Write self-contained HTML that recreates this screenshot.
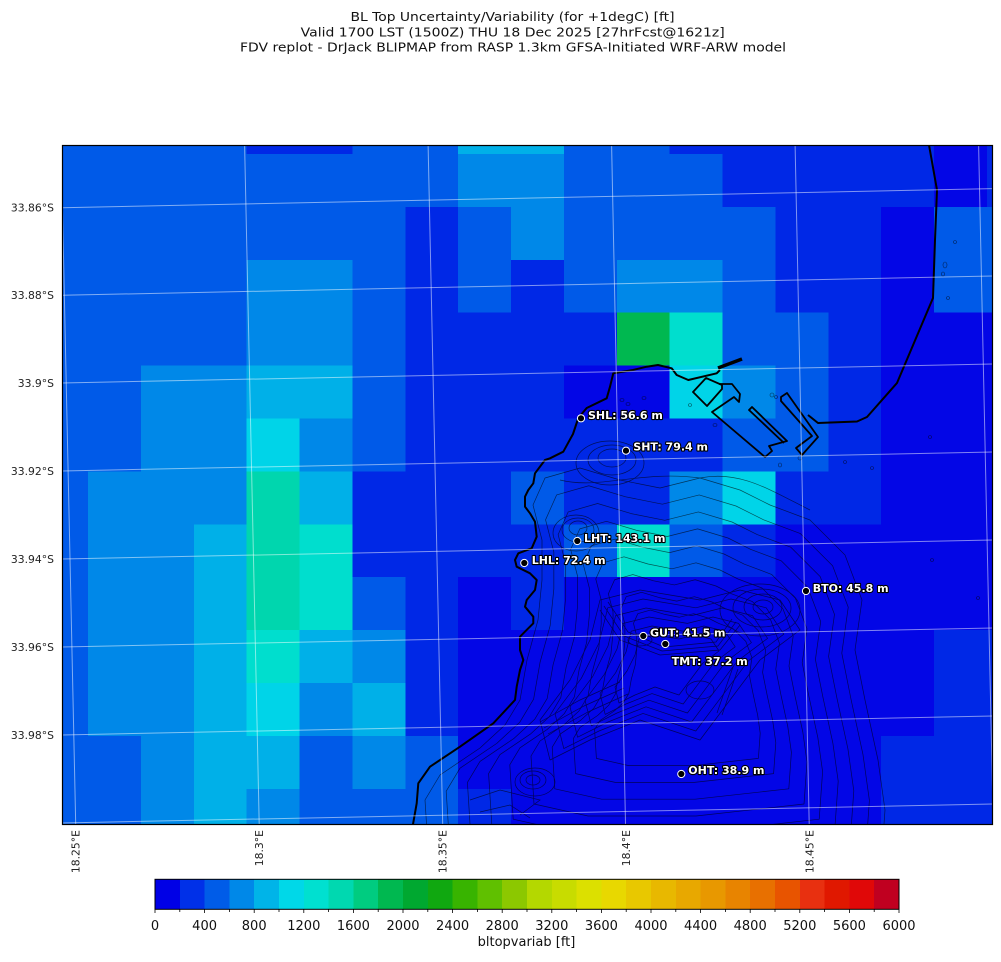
<!DOCTYPE html>
<html><head><meta charset="utf-8">
<style>
html,body{margin:0;padding:0;background:#fff;width:1001px;height:962px;overflow:hidden}
svg{display:block}
</style></head>
<body>
<svg width="1001" height="962" viewBox="0 0 1001 962" xmlns="http://www.w3.org/2000/svg" font-family="'DejaVu Sans','Liberation Sans',sans-serif">
<defs>
<clipPath id="pc"><rect x="62" y="145" width="930.5" height="679.5"/></clipPath>
<polygon id="outer" points="545,478 580,468 620,480 660,488 700,478 740,490 770,505 810,520 845,555 862,600 855,650 865,700 878,760 885,810 880,880 700,900 520,900 430,880 425,800 440,775 480,748 505,725 520,700 527,660 538,620 542,580 542,540 533,505" fill="none" stroke="#000" stroke-width="0.7" vector-effect="non-scaling-stroke" stroke-linejoin="round"/>
<polygon id="ridge" points="600,600 640,590 700,600 740,590 780,600 800,630 760,660 730,700 700,740 640,720 590,740 550,760 540,720 570,680 590,640" fill="none" stroke="#000" stroke-width="0.7" vector-effect="non-scaling-stroke" stroke-linejoin="round"/>
</defs>

<!-- titles -->
<g fill="#111" font-size="12" text-anchor="middle">
<text x="512.5" y="20.8" textLength="324" lengthAdjust="spacingAndGlyphs">BL Top Uncertainty/Variability (for +1degC) [ft]</text>
<text x="512.7" y="36.6" textLength="424" lengthAdjust="spacingAndGlyphs">Valid 1700 LST (1500Z) THU 18 Dec 2025 [27hrFcst@1621z]</text>
<text x="513" y="51.6" textLength="546" lengthAdjust="spacingAndGlyphs">FDV replot - DrJack BLIPMAP from RASP 1.3km GFSA-Initiated WRF-ARW model</text>
</g>

<g clip-path="url(#pc)" shape-rendering="crispEdges">
<rect x="62" y="145" width="931" height="680" fill="#005AE8"/>
<!-- row -1 -->
<rect x="246.6" y="145" width="105.8" height="9" fill="#0028E6"/>
<rect x="458.2" y="145" width="105.7" height="9" fill="#00B0E8"/>
<rect x="669.7" y="145" width="264.4" height="9" fill="#0028E6"/>
<rect x="934.1" y="145" width="52.9" height="9" fill="#0306E6"/>
<rect x="987" y="145" width="6" height="9" fill="#0028E6"/>
<!-- row 0 -->
<rect x="458.2" y="154" width="105.7" height="52.9" fill="#0088E8"/>
<rect x="722.6" y="154" width="211.5" height="52.9" fill="#0028E6"/>
<rect x="934.1" y="154" width="52.9" height="52.9" fill="#0306E6"/>
<rect x="987" y="154" width="6" height="52.9" fill="#0028E6"/>
<!-- row 1 -->
<rect x="405.3" y="206.9" width="52.9" height="52.9" fill="#0028E6"/>
<rect x="511" y="206.9" width="52.9" height="52.9" fill="#0088E8"/>
<rect x="775.4" y="206.9" width="105.8" height="52.9" fill="#0028E6"/>
<rect x="881.2" y="206.9" width="52.9" height="52.9" fill="#0306E6"/>
<!-- row 2 -->
<rect x="246.6" y="259.8" width="105.8" height="52.9" fill="#0088E8"/>
<rect x="405.3" y="259.8" width="52.9" height="52.9" fill="#0028E6"/>
<rect x="511" y="259.8" width="52.9" height="52.9" fill="#0028E6"/>
<rect x="616.8" y="259.8" width="105.8" height="52.9" fill="#0088E8"/>
<rect x="775.4" y="259.8" width="105.8" height="52.9" fill="#0028E6"/>
<rect x="881.2" y="259.8" width="52.9" height="52.9" fill="#0306E6"/>
<!-- row 3 -->
<rect x="246.6" y="312.7" width="105.8" height="52.9" fill="#0088E8"/>
<rect x="405.3" y="312.7" width="211.5" height="52.9" fill="#0028E6"/>
<rect x="616.8" y="312.7" width="52.9" height="52.9" fill="#00B850"/>
<rect x="669.7" y="312.7" width="52.9" height="52.9" fill="#00DECE"/>
<rect x="828.3" y="312.7" width="52.9" height="52.9" fill="#0028E6"/>
<rect x="881.2" y="312.7" width="112" height="52.9" fill="#0306E6"/>
<!-- row 4 -->
<rect x="140.9" y="365.6" width="105.7" height="52.9" fill="#0088E8"/>
<rect x="246.6" y="365.6" width="105.8" height="52.9" fill="#00B0E8"/>
<rect x="405.3" y="365.6" width="158.6" height="52.9" fill="#0028E6"/>
<rect x="563.9" y="365.6" width="105.8" height="52.9" fill="#0306E6"/>
<rect x="669.7" y="365.6" width="52.9" height="52.9" fill="#00D4E8"/>
<rect x="722.6" y="365.6" width="52.8" height="52.9" fill="#0088E8"/>
<rect x="828.3" y="365.6" width="52.9" height="52.9" fill="#0028E6"/>
<rect x="881.2" y="365.6" width="112" height="52.9" fill="#0306E6"/>
<!-- row 5 -->
<rect x="140.9" y="418.5" width="105.7" height="52.9" fill="#0088E8"/>
<rect x="246.6" y="418.5" width="52.9" height="52.9" fill="#00D4E8"/>
<rect x="299.5" y="418.5" width="52.9" height="52.9" fill="#0088E8"/>
<rect x="405.3" y="418.5" width="317.3" height="52.9" fill="#0028E6"/>
<rect x="828.3" y="418.5" width="52.9" height="52.9" fill="#0028E6"/>
<rect x="881.2" y="418.5" width="112" height="52.9" fill="#0306E6"/>
<!-- row 6 -->
<rect x="88" y="471.4" width="158.6" height="52.9" fill="#0088E8"/>
<rect x="246.6" y="471.4" width="52.9" height="52.9" fill="#00D6AE"/>
<rect x="299.5" y="471.4" width="52.9" height="52.9" fill="#00B0E8"/>
<rect x="352.4" y="471.4" width="158.6" height="52.9" fill="#0028E6"/>
<rect x="563.9" y="471.4" width="105.8" height="52.9" fill="#0028E6"/>
<rect x="669.7" y="471.4" width="52.9" height="52.9" fill="#0088E8"/>
<rect x="722.6" y="471.4" width="52.8" height="52.9" fill="#00D4E8"/>
<rect x="775.4" y="471.4" width="105.8" height="52.9" fill="#0028E6"/>
<rect x="881.2" y="471.4" width="112" height="52.9" fill="#0306E6"/>
<!-- row 7 -->
<rect x="88" y="524.3" width="105.8" height="52.9" fill="#0088E8"/>
<rect x="193.8" y="524.3" width="52.8" height="52.9" fill="#00B0E8"/>
<rect x="246.6" y="524.3" width="52.9" height="52.9" fill="#00D6AE"/>
<rect x="299.5" y="524.3" width="52.9" height="52.9" fill="#00DECE"/>
<rect x="352.4" y="524.3" width="211.5" height="52.9" fill="#0028E6"/>
<rect x="616.8" y="524.3" width="52.9" height="52.9" fill="#00DECE"/>
<rect x="722.6" y="524.3" width="52.8" height="52.9" fill="#0028E6"/>
<rect x="775.4" y="524.3" width="217.6" height="52.9" fill="#0306E6"/>
<!-- row 8 -->
<rect x="88" y="577.2" width="105.8" height="52.9" fill="#0088E8"/>
<rect x="193.8" y="577.2" width="52.8" height="52.9" fill="#00B0E8"/>
<rect x="246.6" y="577.2" width="52.9" height="52.9" fill="#00D6AE"/>
<rect x="299.5" y="577.2" width="52.9" height="52.9" fill="#00DECE"/>
<rect x="405.3" y="577.2" width="52.9" height="52.9" fill="#0028E6"/>
<rect x="458.2" y="577.2" width="52.8" height="52.9" fill="#0306E6"/>
<rect x="511" y="577.2" width="52.9" height="52.9" fill="#0028E6"/>
<rect x="563.9" y="577.2" width="429.1" height="52.9" fill="#0306E6"/>
<!-- row 9 -->
<rect x="88" y="630.1" width="105.8" height="52.9" fill="#0088E8"/>
<rect x="193.8" y="630.1" width="52.8" height="52.9" fill="#00B0E8"/>
<rect x="246.6" y="630.1" width="52.9" height="52.9" fill="#00DECE"/>
<rect x="299.5" y="630.1" width="52.9" height="52.9" fill="#00B0E8"/>
<rect x="352.4" y="630.1" width="52.9" height="52.9" fill="#0088E8"/>
<rect x="405.3" y="630.1" width="52.9" height="52.9" fill="#0028E6"/>
<rect x="458.2" y="630.1" width="475.9" height="52.9" fill="#0306E6"/>
<rect x="934.1" y="630.1" width="58.9" height="52.9" fill="#0028E6"/>
<!-- row 10 -->
<rect x="88" y="683" width="105.8" height="52.9" fill="#0088E8"/>
<rect x="193.8" y="683" width="52.8" height="52.9" fill="#00B0E8"/>
<rect x="246.6" y="683" width="52.9" height="52.9" fill="#00D4E8"/>
<rect x="299.5" y="683" width="52.9" height="52.9" fill="#0088E8"/>
<rect x="352.4" y="683" width="52.9" height="52.9" fill="#00B0E8"/>
<rect x="405.3" y="683" width="52.9" height="52.9" fill="#0028E6"/>
<rect x="458.2" y="683" width="475.9" height="52.9" fill="#0306E6"/>
<rect x="934.1" y="683" width="58.9" height="52.9" fill="#0028E6"/>
<!-- row 11 -->
<rect x="140.9" y="735.9" width="52.9" height="52.9" fill="#0088E8"/>
<rect x="193.8" y="735.9" width="105.7" height="52.9" fill="#00B0E8"/>
<rect x="352.4" y="735.9" width="52.9" height="52.9" fill="#0088E8"/>
<rect x="458.2" y="735.9" width="423" height="52.9" fill="#0306E6"/>
<rect x="881.2" y="735.9" width="111.8" height="52.9" fill="#0028E6"/>
<!-- row 12 -->
<rect x="140.9" y="788.8" width="52.9" height="36" fill="#0088E8"/>
<rect x="193.8" y="788.8" width="52.8" height="36" fill="#00B0E8"/>
<rect x="246.6" y="788.8" width="52.9" height="36" fill="#0088E8"/>
<rect x="458.2" y="788.8" width="52.8" height="36" fill="#0028E6"/>
<rect x="511" y="788.8" width="370.2" height="36" fill="#0306E6"/>
<rect x="881.2" y="788.8" width="111.8" height="36" fill="#0028E6"/>
</g>

<!-- contours -->
<g clip-path="url(#pc)" opacity="0.6">
<use href="#outer"/>
<use href="#outer" transform="translate(690,690) scale(0.92) translate(-690,-690)"/>
<use href="#outer" transform="translate(690,690) scale(0.84) translate(-690,-690)"/>
<use href="#outer" transform="translate(690,690) scale(0.76) translate(-690,-690)"/>
<use href="#outer" transform="translate(690,690) scale(0.68) translate(-690,-690)"/>
<use href="#outer" transform="translate(690,690) scale(0.60) translate(-690,-690)"/>
<use href="#outer" transform="translate(690,690) scale(0.52) translate(-690,-690)"/>
<use href="#outer" transform="translate(690,690) scale(0.44) translate(-690,-690)"/>
<use href="#outer" transform="translate(690,690) scale(0.36) translate(-690,-690)"/>
<use href="#ridge"/>
<use href="#ridge" transform="translate(665,665) scale(0.88) translate(-665,-665)"/>
<use href="#ridge" transform="translate(665,665) scale(0.76) translate(-665,-665)"/>
<use href="#ridge" transform="translate(665,665) scale(0.64) translate(-665,-665)"/>
<use href="#ridge" transform="translate(665,665) scale(0.52) translate(-665,-665)"/>
<use href="#ridge" transform="translate(665,665) scale(0.40) translate(-665,-665)"/>
<g fill="none" stroke="#000" stroke-width="0.7">
<ellipse cx="578" cy="528" rx="9" ry="7"/>
<ellipse cx="578" cy="530" rx="16" ry="12"/>
<ellipse cx="576" cy="533" rx="23" ry="18"/>
<ellipse cx="612" cy="458" rx="14" ry="9"/>
<ellipse cx="612" cy="460" rx="24" ry="15"/>
<ellipse cx="610" cy="463" rx="34" ry="22"/>
<ellipse cx="763" cy="607" rx="10" ry="7"/>
<ellipse cx="763" cy="607" rx="19" ry="13"/>
<ellipse cx="762" cy="608" rx="29" ry="19"/>
<ellipse cx="760" cy="610" rx="40" ry="26"/>
<ellipse cx="533" cy="780" rx="7" ry="5"/>
<ellipse cx="533" cy="780" rx="13" ry="9"/>
<ellipse cx="535" cy="782" rx="20" ry="14"/>
<ellipse cx="640" cy="640" rx="12" ry="6"/>
<ellipse cx="700" cy="690" rx="14" ry="9"/>
<path d="M600,610 L620,640 L660,655 L720,650 L740,625"/>
<path d="M604,606 L624,636 L662,651 L718,646 L736,622"/>
<path d="M608,602 L628,632 L664,647 L716,642 L732,619"/>
<path d="M540,722 L580,700 L620,682"/>
<path d="M544,728 L584,706 L624,688"/>
<path d="M548,734 L588,712 L628,694"/>
<path d="M733,667 L725,690 L717,713"/>
<path d="M738,669 L730,692 L722,715"/>
<path d="M470,800 L500,790 L540,800 L520,815"/>
<path d="M480,812 L510,805 L530,818"/>
<path d="M560,480 C600,490 640,470 700,478 C740,470 770,490 810,510"/>
</g>
<g fill="none" stroke="#000" stroke-width="0.6">
<ellipse cx="622" cy="400" rx="2" ry="1.5"/><ellipse cx="628" cy="404" rx="2" ry="1.5"/>
<ellipse cx="644" cy="398" rx="2" ry="1.5"/><ellipse cx="690" cy="405" rx="1.5" ry="1.5"/>
<ellipse cx="715" cy="425" rx="2" ry="1.5"/><ellipse cx="772" cy="395" rx="2" ry="2"/>
<ellipse cx="776" cy="397" rx="1.5" ry="1.5"/><ellipse cx="780" cy="465" rx="1.5" ry="2"/>
<ellipse cx="800" cy="458" rx="2" ry="2"/><ellipse cx="845" cy="462" rx="1.5" ry="1.5"/>
<ellipse cx="872" cy="468" rx="1.5" ry="1.5"/><ellipse cx="930" cy="437" rx="1.5" ry="1.5"/>
<ellipse cx="955" cy="242" rx="1.5" ry="1.5"/><ellipse cx="945" cy="265" rx="2" ry="3"/>
<ellipse cx="943" cy="274" rx="1.5" ry="2"/><ellipse cx="948" cy="298" rx="1.5" ry="1.5"/>
<ellipse cx="932" cy="560" rx="1.5" ry="1.5"/><ellipse cx="978" cy="598" rx="1.5" ry="1.5"/>
</g>
</g>

<!-- coastline -->
<g clip-path="url(#pc)" fill="none" stroke="#000" stroke-width="2" stroke-linejoin="round">
<path d="M929,145 L937,190 L935,240 L933,298 L897,383 L867,417 L857,421.5 L818,423 L808,415"/>
<path d="M742,359 L718,368" stroke-width="3.5"/>
<path d="M720,370 L716.7,373.3 L688.3,380 L676.7,375 L671.7,368.3 L658,365 L646.7,366.7 L633,370 L613.3,373.3 L610,386.7 L606.7,398.3 L586.7,408 L578.3,418 L573,434 L563.3,451.7 L550,458.3 L545,460 L535,473.3 L533.3,483.3 L528.3,490 L525,496.7 L525,506.7 L530,513.3 L535,521.7 L536.7,536.7 L531.7,548.3 L518.3,553.3 L515,560 L516.7,566.7 L530,573.3 L536.7,580 L535,590 L526.7,600 L525,606.7 L533.3,616.7 L533.3,623.3 L523.3,633.3 L520,636.7 L520,650 L523.3,660 L520,670 L516.7,686.7 L515,700 L493.3,723.3 L460,746.7 L430,766.7 L418.3,783.3 L416.7,803.3 L412.7,826"/>
<path d="M693,392 L706,378 L722,385 L722,389 L707,406 Z" stroke-width="1.8"/>
<path d="M719,384 L732,384 L740,394 L739,402 L734,397 L712,412 L765,457 L772,451 L769,446 L787,441 L752,407 L749,410 L784,443" stroke-width="1.8"/>
<path d="M781,397 L787,393 L818,437 L802,455 L796,448 L812,436 L781,401 Z" stroke-width="1.8"/>
</g>

<!-- gridlines -->
<g clip-path="url(#pc)" stroke="#ffffff" stroke-opacity="0.5" stroke-width="1" fill="none">
<line x1="62" y1="207.7" x2="993" y2="188.6"/>
<line x1="62" y1="295.3" x2="993" y2="276"/>
<line x1="62" y1="383" x2="993" y2="364"/>
<line x1="62" y1="471" x2="993" y2="452"/>
<line x1="62" y1="559" x2="993" y2="540"/>
<line x1="62" y1="647" x2="993" y2="628"/>
<line x1="62" y1="735" x2="993" y2="716"/>
<line x1="62" y1="823" x2="993" y2="804"/>
<line x1="61.1" y1="145" x2="75.7" y2="824"/>
<line x1="244.6" y1="145" x2="259.2" y2="824"/>
<line x1="428.1" y1="145" x2="442.7" y2="824"/>
<line x1="611.6" y1="145" x2="625.5" y2="824"/>
<line x1="795.1" y1="145" x2="809.2" y2="824"/>
<line x1="978.6" y1="145" x2="993.2" y2="824"/>
</g>

<!-- stations -->
<g fill="#000" stroke="#fff" stroke-width="1">
<circle cx="581" cy="418.3" r="3.6"/>
<circle cx="626" cy="450.7" r="3.6"/>
<circle cx="577.3" cy="541" r="3.6"/>
<circle cx="524.3" cy="563" r="3.6"/>
<circle cx="806" cy="591" r="3.6"/>
<circle cx="643.3" cy="636" r="3.6"/>
<circle cx="665.3" cy="644" r="3.6"/>
<circle cx="681.3" cy="774" r="3.6"/>
</g>
<g font-size="11" font-weight="bold" fill="#fff" stroke="#000" stroke-width="2.2" paint-order="stroke" stroke-linejoin="round">
<text x="588" y="419">SHL: 56.6 m</text>
<text x="633.3" y="450.5">SHT: 79.4 m</text>
<text x="584" y="542">LHT: 143.1 m</text>
<text x="531.7" y="564">LHL: 72.4 m</text>
<text x="812.7" y="592">BTO: 45.8 m</text>
<text x="650" y="636.5">GUT: 41.5 m</text>
<text x="671.7" y="665">TMT: 37.2 m</text>
<text x="688.3" y="774">OHT: 38.9 m</text>
</g>

<!-- frame -->
<rect x="62.5" y="145.5" width="930" height="679" fill="none" stroke="#000" stroke-width="1.2"/>

<!-- y labels -->
<g font-size="10.8" fill="#222" text-anchor="end">
<text x="54" y="211.5">33.86°S</text>
<text x="54" y="299.1">33.88°S</text>
<text x="54" y="386.8">33.9°S</text>
<text x="54" y="474.8">33.92°S</text>
<text x="54" y="562.8">33.94°S</text>
<text x="54" y="650.8">33.96°S</text>
<text x="54" y="738.8">33.98°S</text>
</g>
<!-- x labels -->
<g font-size="10.8" fill="#222" text-anchor="end">
<text transform="translate(79.7,830) rotate(-90)">18.25°E</text>
<text transform="translate(263.2,830) rotate(-90)">18.3°E</text>
<text transform="translate(446.7,830) rotate(-90)">18.35°E</text>
<text transform="translate(629.8,830) rotate(-90)">18.4°E</text>
<text transform="translate(813.3,830) rotate(-90)">18.45°E</text>
</g>

<!-- colorbar -->
<g shape-rendering="crispEdges">
<rect x="155" y="879.3" width="24.9" height="30" fill="#0000E6"/>
<rect x="179.8" y="879.3" width="24.9" height="30" fill="#0030E8"/>
<rect x="204.6" y="879.3" width="24.9" height="30" fill="#005CE8"/>
<rect x="229.4" y="879.3" width="24.9" height="30" fill="#0088E8"/>
<rect x="254.2" y="879.3" width="24.9" height="30" fill="#00B4E8"/>
<rect x="279" y="879.3" width="24.9" height="30" fill="#00D8E8"/>
<rect x="303.8" y="879.3" width="24.9" height="30" fill="#00E0D0"/>
<rect x="328.6" y="879.3" width="24.9" height="30" fill="#00D8B0"/>
<rect x="353.4" y="879.3" width="24.9" height="30" fill="#00CC80"/>
<rect x="378.2" y="879.3" width="24.9" height="30" fill="#00B850"/>
<rect x="403" y="879.3" width="24.9" height="30" fill="#00A830"/>
<rect x="427.8" y="879.3" width="24.9" height="30" fill="#10A810"/>
<rect x="452.6" y="879.3" width="24.9" height="30" fill="#38B400"/>
<rect x="477.4" y="879.3" width="24.9" height="30" fill="#60C000"/>
<rect x="502.2" y="879.3" width="24.9" height="30" fill="#8CC800"/>
<rect x="527" y="879.3" width="24.9" height="30" fill="#B4D800"/>
<rect x="551.8" y="879.3" width="24.9" height="30" fill="#C8DC00"/>
<rect x="576.6" y="879.3" width="24.9" height="30" fill="#DCE000"/>
<rect x="601.4" y="879.3" width="24.9" height="30" fill="#E8D800"/>
<rect x="626.2" y="879.3" width="24.9" height="30" fill="#E8C800"/>
<rect x="651" y="879.3" width="24.9" height="30" fill="#E8B800"/>
<rect x="675.8" y="879.3" width="24.9" height="30" fill="#E8A800"/>
<rect x="700.6" y="879.3" width="24.9" height="30" fill="#E89800"/>
<rect x="725.4" y="879.3" width="24.9" height="30" fill="#E88400"/>
<rect x="750.2" y="879.3" width="24.9" height="30" fill="#E87000"/>
<rect x="775" y="879.3" width="24.9" height="30" fill="#E85400"/>
<rect x="799.8" y="879.3" width="24.9" height="30" fill="#E83010"/>
<rect x="824.6" y="879.3" width="24.9" height="30" fill="#E01800"/>
<rect x="849.4" y="879.3" width="24.9" height="30" fill="#E00808"/>
<rect x="874.2" y="879.3" width="24.8" height="30" fill="#C00020"/>
</g>
<rect x="155" y="879.3" width="744" height="30" fill="none" stroke="#000" stroke-width="1"/>
<g stroke="#000" stroke-width="0.8">
<line x1="155" y1="909" x2="155" y2="913"/><line x1="179.8" y1="909" x2="179.8" y2="912"/>
<line x1="204.6" y1="909" x2="204.6" y2="913"/><line x1="229.4" y1="909" x2="229.4" y2="912"/>
<line x1="254.2" y1="909" x2="254.2" y2="913"/><line x1="279" y1="909" x2="279" y2="912"/>
<line x1="303.8" y1="909" x2="303.8" y2="913"/><line x1="328.6" y1="909" x2="328.6" y2="912"/>
<line x1="353.4" y1="909" x2="353.4" y2="913"/><line x1="378.2" y1="909" x2="378.2" y2="912"/>
<line x1="403" y1="909" x2="403" y2="913"/><line x1="427.8" y1="909" x2="427.8" y2="912"/>
<line x1="452.6" y1="909" x2="452.6" y2="913"/><line x1="477.4" y1="909" x2="477.4" y2="912"/>
<line x1="502.2" y1="909" x2="502.2" y2="913"/><line x1="527" y1="909" x2="527" y2="912"/>
<line x1="551.8" y1="909" x2="551.8" y2="913"/><line x1="576.6" y1="909" x2="576.6" y2="912"/>
<line x1="601.4" y1="909" x2="601.4" y2="913"/><line x1="626.2" y1="909" x2="626.2" y2="912"/>
<line x1="651" y1="909" x2="651" y2="913"/><line x1="675.8" y1="909" x2="675.8" y2="912"/>
<line x1="700.6" y1="909" x2="700.6" y2="913"/><line x1="725.4" y1="909" x2="725.4" y2="912"/>
<line x1="750.2" y1="909" x2="750.2" y2="913"/><line x1="775" y1="909" x2="775" y2="912"/>
<line x1="799.8" y1="909" x2="799.8" y2="913"/><line x1="824.6" y1="909" x2="824.6" y2="912"/>
<line x1="849.4" y1="909" x2="849.4" y2="913"/><line x1="874.2" y1="909" x2="874.2" y2="912"/>
<line x1="899" y1="909" x2="899" y2="913"/>
</g>
<g font-size="13" fill="#111" text-anchor="middle">
<text x="155" y="930">0</text>
<text x="204.6" y="930">400</text>
<text x="254.2" y="930">800</text>
<text x="303.8" y="930">1200</text>
<text x="353.4" y="930">1600</text>
<text x="403" y="930">2000</text>
<text x="452.6" y="930">2400</text>
<text x="502.2" y="930">2800</text>
<text x="551.8" y="930">3200</text>
<text x="601.4" y="930">3600</text>
<text x="651" y="930">4000</text>
<text x="700.6" y="930">4400</text>
<text x="750.2" y="930">4800</text>
<text x="799.8" y="930">5200</text>
<text x="849.4" y="930">5600</text>
<text x="899" y="930">6000</text>
<text x="526.5" y="946">bltopvariab [ft]</text>
</g>
</svg>
</body></html>
